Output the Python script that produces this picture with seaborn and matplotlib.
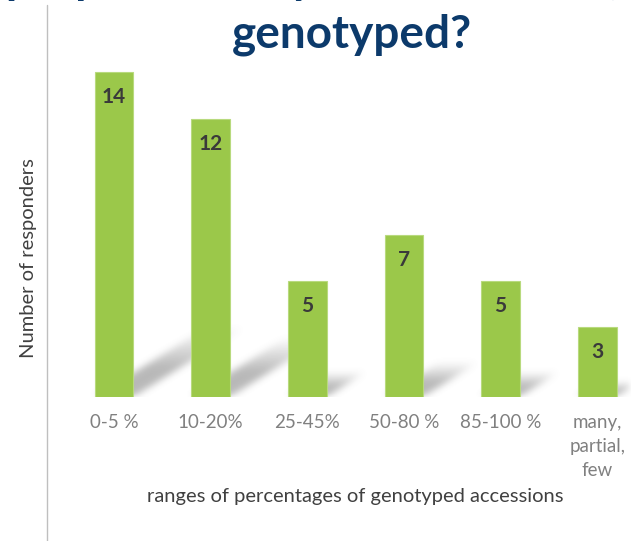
import numpy as np
import pandas as pd
import matplotlib
matplotlib.use('Agg')
import matplotlib.pyplot as plt
import seaborn as sns
from matplotlib.lines import Line2D

# data
categories = ["0-5 %", "10-20%", "25-45%", "50-80 %", "85-100 %", "many,\npartial,\nfew"]
responders = [14, 12, 5, 7, 5, 3]

title_top = "proportion of your collection (%)"
title_main = "genotyped?"
x_label = "ranges of percentages of genotyped accessions"
y_label = "Number of responders"

BAR = "#9bc84a"
NAVY = "#0c3a6b"


def shadow_layer(ax, values, bar_w=0.4, sx=0.083, sy=0.215):
    # soft slanted drop shadow behind each bar, length follows bar height
    x0, x1 = ax.get_xlim(); y0, y1 = ax.get_ylim()
    nx, ny = 571, 337
    X, Y = np.meshgrid(np.linspace(x0, x1, nx), np.linspace(y0, y1, ny))
    dens = np.zeros_like(X)
    for i, v in enumerate(values):
        t = Y / (sy * v)
        inside = (t >= 0) & (t <= 1) & (np.abs(X - i - sx * v * t) <= bar_w / 2)
        dens = np.maximum(dens, np.where(inside, np.clip(1.7 * (1 - t), 0, 1), 0))
    k = np.ones(7) / 7
    for _ in range(3):
        dens = np.apply_along_axis(lambda r: np.convolve(r, k, mode='same'), 1, dens)
        dens = np.apply_along_axis(lambda c: np.convolve(c, k, mode='same'), 0, dens)
    rgba = np.zeros((ny, nx, 4))
    rgba[..., :3] = 0.45
    rgba[..., 3] = dens * 0.5
    ax.imshow(rgba, extent=(x0, x1, y0, y1), origin='lower', aspect='auto',
              zorder=1, interpolation='bilinear')


sns.set_theme(style="white")
plt.rcParams['font.family'] = ['Lato', 'DejaVu Sans']

df = pd.DataFrame({"range": categories, "n": responders})

fig = plt.figure(figsize=(6.31, 5.41), dpi=100)
ax = fig.add_axes([60 / 631, 144 / 541, 571 / 631, 337 / 541])

sns.barplot(data=df, x="range", y="n", color=BAR, width=0.4, saturation=1,
            ax=ax, zorder=3, edgecolor="#b8da7e", linewidth=0.8)
ax.set_xlim(-0.56, 5.35)
ax.set_ylim(0, 14.53)

shadow_layer(ax, responders)
ax.set_xlim(-0.56, 5.35)
ax.set_ylim(0, 14.53)

for i, v in enumerate(responders):
    ax.annotate(str(v), (i, v), xytext=(0, -18), textcoords='offset points',
                ha='center', va='center', fontsize=15, fontweight='bold',
                color='#3a3a3a', zorder=4)

ax.set_yticks([])
ax.tick_params(axis='x', length=0, pad=12, labelsize=13.5, labelcolor='#808080')
for lbl in ax.get_xticklabels():
    lbl.set_linespacing(1.5)
ax.set_xlabel(x_label, fontsize=14.5, color='#404040')
ax.xaxis.set_label_coords(0.517, -0.27)
ax.set_ylabel(y_label, fontsize=14.5, color='#404040', va='center')
ax.yaxis.set_label_coords(-0.056, 0.412)
sns.despine(ax=ax, left=True, bottom=True)

# slide decoration: thin grey rule on the left
fig.add_artist(Line2D([47 / 631] * 2, [0, 1 - 5 / 541], color='#bfbfbf', lw=1,
                      transform=fig.transFigure))

# first title line sits mostly above the crop, as on the slide
fig.text(6 / 631, 1 + 7 / 541, title_top, ha='left', va='baseline',
         fontsize=33, fontweight='bold', color=NAVY)
fig.text(352 / 631, 1 - 47 / 541, title_main, ha='center', va='baseline',
         fontsize=33, fontweight='bold', color=NAVY)

fig.savefig("out.png", dpi=100)
